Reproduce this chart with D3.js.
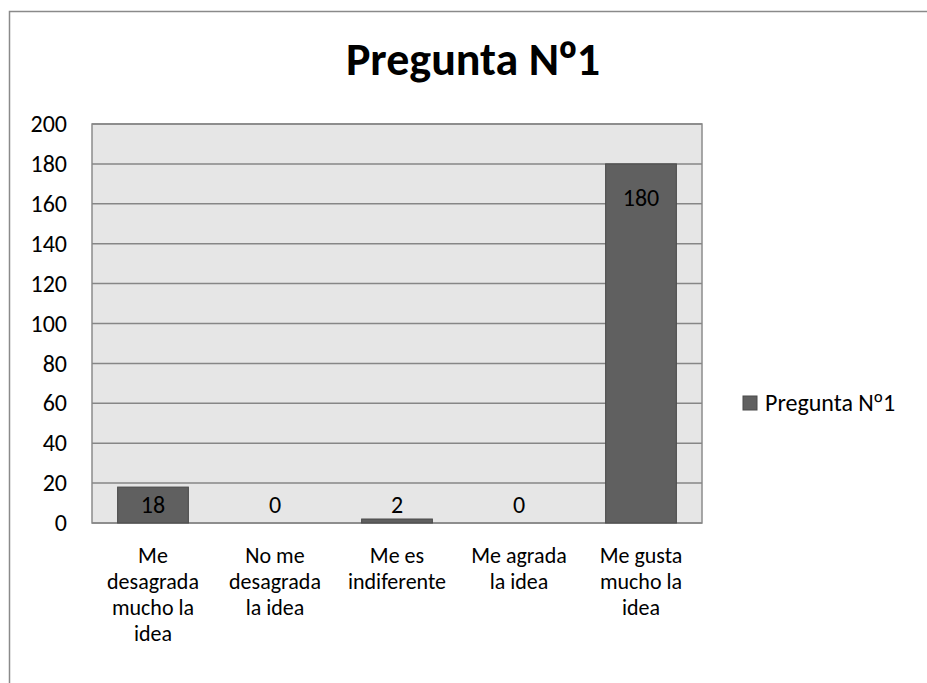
<!DOCTYPE html>
<html lang="es">
<head>
<meta charset="UTF-8">
<title>Pregunta Nº1</title>
<script src="https://d3js.org/d3.v7.min.js"></script>
<style>
  body { margin: 0; background: #fff; }
  svg text { font-family: Carlito, Lato, "Noto Sans", sans-serif; fill: #000; }
  .tick text { font-size: 24px; }
  .ord { font-family: "Noto Sans", sans-serif; }
</style>
</head>
<body>
<script>
// data
const categories = [
  ["Me", "desagrada", "mucho la", "idea"],
  ["No me", "desagrada", "la idea"],
  ["Me es", "indiferente"],
  ["Me agrada", "la idea"],
  ["Me gusta", "mucho la", "idea"]
]
const values = [18, 0, 2, 0, 180]
const yTicks = [0, 20, 40, 60, 80, 100, 120, 140, 160, 180, 200]
const title = ["Pregunta N", "º", "1"]
const seriesName = ["Pregunta N", "º", "1"]

const W = 927, H = 683
const PLOT = {LEFT: 92, RIGHT: 702, TOP: 124, BOTTOM: 523}

const svg = d3.select("body").append("svg")
  .attr("width", W)
  .attr("height", H)

// outer chart border (runs off the right and bottom edge)
svg.append("rect")
  .attr("x", 9.5).attr("y", 11.5)
  .attr("width", W + 20).attr("height", H + 20)
  .attr("fill", "#fff")
  .attr("stroke", "#8a8a8a")
  .attr("stroke-width", 1.5)

const x = d3.scaleBand()
  .domain(d3.range(values.length))
  .range([PLOT.LEFT, PLOT.RIGHT])
  .paddingInner(0.42)
  .paddingOuter(0.21)

const y = d3.scaleLinear().domain([0, 200]).range([PLOT.BOTTOM, PLOT.TOP])

// plot background
svg.append("rect")
  .attr("x", PLOT.LEFT).attr("y", PLOT.TOP)
  .attr("width", PLOT.RIGHT - PLOT.LEFT)
  .attr("height", PLOT.BOTTOM - PLOT.TOP)
  .attr("fill", "#e6e6e6")
  .attr("stroke", "#8c8c8c")
  .attr("stroke-width", 1.5)

// gridlines
svg.append("g")
  .selectAll("line")
  .data(yTicks)
  .join("line")
  .attr("x1", PLOT.LEFT).attr("x2", PLOT.RIGHT)
  .attr("y1", d => y(d)).attr("y2", d => y(d))
  .attr("stroke", "#868686")
  .attr("stroke-width", 1.5)

// y axis labels
const yAxis = svg.append("g")
  .attr("transform", `translate(${PLOT.LEFT}, 0)`)
  .call(d3.axisLeft(y).tickValues(yTicks).tickSize(0).tickPadding(25))
yAxis.select(".domain").remove()
yAxis.selectAll(".tick text").attr("font-size", null)

// bars
svg.append("g")
  .selectAll("rect")
  .data(values)
  .join("rect")
  .attr("x", (d, i) => x(i))
  .attr("y", d => y(d))
  .attr("width", x.bandwidth())
  .attr("height", d => y(0) - y(d))
  .attr("fill", "#606060")
  .attr("stroke", "#4a4a4a")
  .attr("stroke-width", 1)

// data labels
svg.append("g")
  .selectAll("text")
  .data(values)
  .join("text")
  .attr("x", (d, i) => x(i) + x.bandwidth() / 2)
  .attr("y", d => Math.min(y(d) + 34, y(0) - 18))
  .attr("dy", "0.35em")
  .attr("text-anchor", "middle")
  .attr("font-size", 24)
  .text(d => d)

// category labels
const cat = svg.append("g")
  .selectAll("text")
  .data(categories)
  .join("text")
  .attr("text-anchor", "middle")
  .attr("font-size", 22)
cat.each(function(lines, i) {
  d3.select(this).selectAll("tspan")
    .data(lines)
    .join("tspan")
    .attr("x", x(i) + x.bandwidth() / 2)
    .attr("y", (d, j) => 555 + j * 26)
    .attr("dy", "0.35em")
    .text(d => d)
})

function writeParts(sel, parts) {
  sel.selectAll("tspan")
    .data(parts)
    .join("tspan")
    .attr("class", (d, i) => i == 1 ? "ord" : null)
    .text(d => d)
}

// title
svg.append("text")
  .attr("x", 473)
  .attr("y", 75)
  .attr("text-anchor", "middle")
  .attr("font-size", 46)
  .attr("font-weight", "bold")
  .call(writeParts, title)

// legend
const legend = svg.append("g").attr("transform", "translate(743, 396)")
legend.append("rect")
  .attr("width", 14).attr("height", 14)
  .attr("fill", "#606060")
  .attr("stroke", "#4a4a4a")
legend.append("text")
  .attr("x", 22).attr("y", 7)
  .attr("dy", "0.35em")
  .attr("font-size", 24)
  .call(writeParts, seriesName)
</script>
</body>
</html>
